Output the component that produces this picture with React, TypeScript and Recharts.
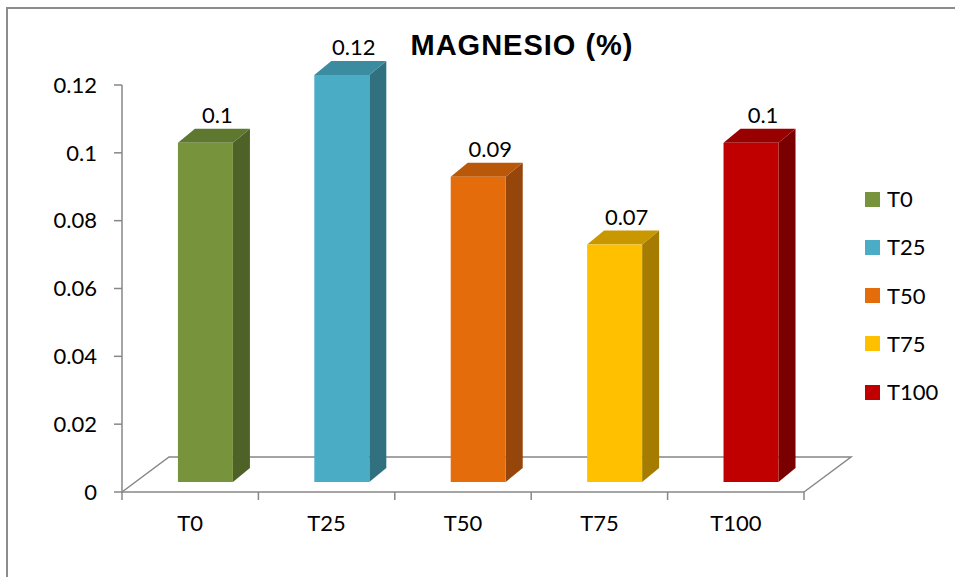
import React from "react";
import { BarChart, Bar, XAxis, YAxis, ReferenceArea } from "recharts";

const categories = ["T0", "T25", "T50", "T75", "T100"];
const magnesio = [0.1, 0.12, 0.09, 0.07, 0.1];
const yTicks = [0, 0.02, 0.04, 0.06, 0.08, 0.1, 0.12];

const frontColors = ["#77933C", "#4BACC6", "#E46C0A", "#FFC000", "#C00000"];
const sideColors = ["#4E6127", "#31717F", "#96460A", "#A67C00", "#7A0000"];
const topColors = ["#5F7830", "#3B8CA0", "#B85808", "#C99800", "#980000"];

const data = categories.map((name, i) => ({ name, value: magnesio[i], idx: i }));

// 3D offsets (px): where the bar sits on the floor, and its own depth
const SHIFT_X = 15;
const SHIFT_Y = -10;
const DEPTH_X = 17;
const DEPTH_Y = -14;
const FLOOR_X = 47;
const FLOOR_Y = -35;

const AXIS = "#878787";
const FONT = "Lato, 'Open Sans', sans-serif";

function Bar3D(props: any) {
  const { x, y, width, height, payload } = props;
  if (x == null || height == null) return null;
  const i = payload?.idx ?? props.index ?? 0;
  const fx = x + SHIFT_X;
  const fy = y + SHIFT_Y;
  const fb = fy + height;
  const side = `${fx + width},${fy} ${fx + width + DEPTH_X},${fy + DEPTH_Y} ${fx + width + DEPTH_X},${fb + DEPTH_Y} ${fx + width},${fb}`;
  const top = `${fx},${fy} ${fx + DEPTH_X},${fy + DEPTH_Y} ${fx + width + DEPTH_X},${fy + DEPTH_Y} ${fx + width},${fy}`;
  return (
    <g>
      <polygon points={side} fill={sideColors[i]} />
      <polygon points={top} fill={topColors[i]} />
      <rect x={fx} y={fy} width={width} height={height} fill={frontColors[i]} />
      <text
        x={fx + width / 2 + 12}
        y={fy - 28}
        dy="0.36em"
        textAnchor="middle"
        fontFamily={FONT}
        fontSize={22}
        fill="#000"
      >
        {payload?.value ?? magnesio[i]}
      </text>
    </g>
  );
}

function Floor(props: any) {
  const { x, y, width, height } = props;
  const b = y + height;
  const pts = `${x},${b} ${x + FLOOR_X},${b + FLOOR_Y} ${x + width + FLOOR_X},${b + FLOOR_Y} ${x + width},${b}`;
  return <polyline points={pts} fill="none" stroke={AXIS} strokeWidth={1.5} />;
}

function CategoryTick(props: any) {
  const { x, y, payload, index } = props;
  const half = payload?.offset || 68.2;
  const last = index === categories.length - 1;
  return (
    <g>
      <line x1={x - half} y1={y} x2={x - half} y2={y + 8} stroke={AXIS} strokeWidth={1.5} />
      {last && (
        <line x1={x + half} y1={y} x2={x + half} y2={y + 8} stroke={AXIS} strokeWidth={1.5} />
      )}
      <text x={x} y={y + 39} textAnchor="middle" fontFamily={FONT} fontSize={22} fill="#000">
        {payload.value}
      </text>
    </g>
  );
}

export default function App() {
  return (
    <div
      style={{
        position: "absolute",
        left: 0,
        top: 0,
        width: 955,
        height: 577,
        overflow: "hidden",
        background: "#fff",
      }}
    >
      <div
        style={{
          position: "absolute",
          left: 6,
          top: 7,
          width: 1000,
          height: 700,
          borderLeft: "2px solid #8c8c8c",
          borderTop: "2px solid #8c8c8c",
        }}
      />
      <div style={{ position: "absolute", left: 0, top: 0 }}>
        <BarChart
          width={955}
          height={577}
          data={data}
          margin={{ top: 85, right: 151, bottom: 45, left: 0 }}
          barCategoryGap="30%"
        >
          <XAxis
            dataKey="name"
            height={40}
            interval={0}
            tickSize={0}
            tickMargin={0}
            tickLine={false}
            axisLine={{ stroke: AXIS, strokeWidth: 1.5 }}
            tick={<CategoryTick />}
          />
          <YAxis
            width={122}
            domain={[0, 0.12]}
            ticks={yTicks}
            interval={0}
            tickSize={8}
            tickMargin={17}
            axisLine={{ stroke: AXIS, strokeWidth: 1.5 }}
            tickLine={{ stroke: AXIS, strokeWidth: 1.5 }}
            tick={{ fill: "#000", fontSize: 22, fontFamily: FONT }}
          />
          <ReferenceArea y1={0} y2={yTicks[1]} shape={<Floor />} />
          <Bar dataKey="value" shape={<Bar3D />} isAnimationActive={false} />
        </BarChart>
      </div>
      <div
        style={{
          position: "absolute",
          left: 322,
          top: 31,
          width: 400,
          textAlign: "center",
          fontFamily: "'Liberation Sans', Arial, sans-serif",
          fontWeight: "bold",
          fontSize: 29,
          lineHeight: "29px",
          letterSpacing: 1,
          color: "#000",
        }}
      >
        MAGNESIO (%)
      </div>
      {categories.map((c, i) => (
        <div
          key={c}
          style={{
            position: "absolute",
            left: 865,
            top: 188 + i * 48.3,
            height: 22,
            display: "flex",
            alignItems: "center",
            fontFamily: FONT,
            fontSize: 22,
            lineHeight: "22px",
            color: "#000",
          }}
        >
          <span
            style={{
              display: "inline-block",
              width: 15,
              height: 15,
              background: frontColors[i],
              marginRight: 7,
            }}
          />
          {c}
        </div>
      ))}
    </div>
  );
}
